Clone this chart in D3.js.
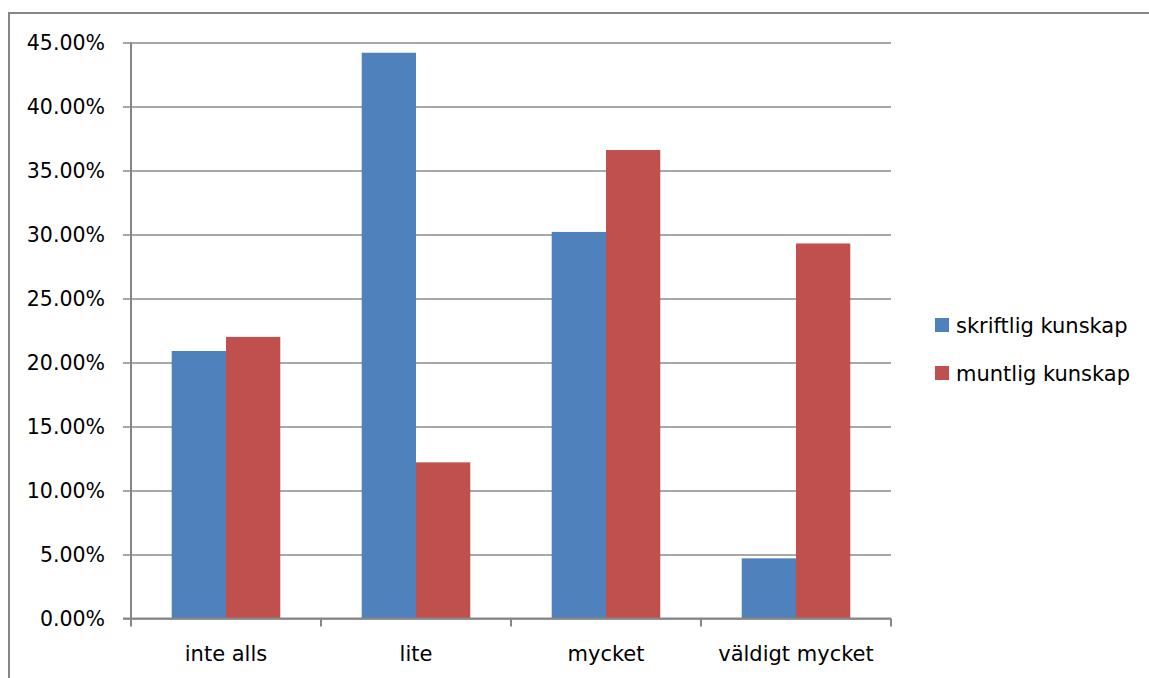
<!DOCTYPE html>
<html>
<head>
<meta charset="utf-8">
<script src="https://cdn.jsdelivr.net/npm/d3@7"></script>
<style>
  html, body { margin: 0; padding: 0; background: #ffffff; overflow: hidden; }
  svg { display: block; }
  text { font-family: "DejaVu Sans", sans-serif; fill: #000; }
</style>
</head>
<body>
<svg id="chart" width="1149" height="678"></svg>
<script>
// ---- data ----
const categories = ["inte alls", "lite", "mycket", "väldigt mycket"];
const seriesNames = ["skriftlig kunskap", "muntlig kunskap"];
const skriftlig = [0.209, 0.442, 0.302, 0.047];
const muntlig = [0.220, 0.122, 0.366, 0.293];
const yTicks = [0, 0.05, 0.10, 0.15, 0.20, 0.25, 0.30, 0.35, 0.40, 0.45];
const seriesColors = ["#4F81BD", "#C0504D"];

const seriesValues = [skriftlig, muntlig];

const svg = d3.select("#chart");
const margin = { left: 131, right: 1149 - 891, top: 42.5, bottom: 678 - 618.5 };
const plotW = 1149 - margin.left - margin.right;
const plotH = 678 - margin.top - margin.bottom;

// outer frame (extends beyond the visible window at right/bottom)
svg.append("rect")
  .attr("x", 9).attr("y", 13)
  .attr("width", 1200).attr("height", 700)
  .attr("fill", "none").attr("stroke", "#868686").attr("stroke-width", 2);

const x0 = d3.scaleBand().domain(categories).range([margin.left, margin.left + plotW]).paddingInner(0).paddingOuter(0);
const x1 = d3.scaleBand().domain(seriesNames).range([0, x0.bandwidth()]).paddingInner(0).paddingOuter(0.75);
const y = d3.scaleLinear().domain([0, 0.45]).range([margin.top + plotH, margin.top]);

// gridlines + y axis
const yAxis = d3.axisLeft(y).tickValues(yTicks).tickFormat(d3.format(".2%"))
  .tickSize(-(plotW + 8)).tickPadding(18);
const gy = svg.append("g").attr("transform", `translate(${margin.left - 8},0)`).call(yAxis);
gy.select(".domain").remove();
gy.selectAll(".tick line").attr("stroke", "#8a8a8a").attr("stroke-width", 1.6);
gy.selectAll(".tick text").attr("font-size", 20.5).attr("x", -(26 - 8)).attr("dy", "0.36em")
  .style("font-family", "DejaVu Sans, sans-serif").attr("fill", "#000");

// bars
const groups = svg.append("g").selectAll("g").data(categories).join("g")
  .attr("transform", d => `translate(${x0(d)},0)`);
groups.selectAll("rect")
  .data((c, i) => seriesNames.map((s, j) => ({ s, v: seriesValues[j][i], j })))
  .join("rect")
  .attr("x", d => x1(d.s))
  .attr("width", x1.bandwidth())
  .attr("y", d => y(d.v))
  .attr("height", d => y(0) - y(d.v))
  .attr("fill", d => seriesColors[d.j]);

// y axis line
svg.append("line")
  .attr("x1", margin.left).attr("x2", margin.left)
  .attr("y1", y(0.45)).attr("y2", y(0))
  .attr("stroke", "#868686").attr("stroke-width", 2);

// x axis
const xAxisLine = svg.append("g").attr("transform", `translate(0,${y(0)})`);
xAxisLine.append("line")
  .attr("x1", margin.left - 8).attr("x2", margin.left + plotW)
  .attr("stroke", "#868686").attr("stroke-width", 2);
const tickPositions = categories.map(c => x0(c)).concat([x0(categories[categories.length - 1]) + x0.bandwidth()]);
xAxisLine.selectAll("line.tk").data(tickPositions).join("line").attr("class", "tk")
  .attr("x1", d => d).attr("x2", d => d).attr("y1", 0).attr("y2", 8)
  .attr("stroke", "#868686").attr("stroke-width", 2);
xAxisLine.selectAll("text").data(categories).join("text")
  .attr("x", d => x0(d) + x0.bandwidth() / 2)
  .attr("y", 42.5)
  .attr("text-anchor", "middle")
  .attr("font-size", 21)
  .text(d => d);

// legend
const legend = svg.append("g").attr("transform", "translate(935,318)");
const li = legend.selectAll("g").data(seriesNames).join("g")
  .attr("transform", (d, i) => `translate(0,${i * 48})`);
li.append("rect").attr("width", 14).attr("height", 14).attr("fill", (d, i) => seriesColors[i]);
li.append("text").attr("x", 21).attr("y", 15).attr("font-size", 21).text(d => d);
</script>
</body>
</html>
